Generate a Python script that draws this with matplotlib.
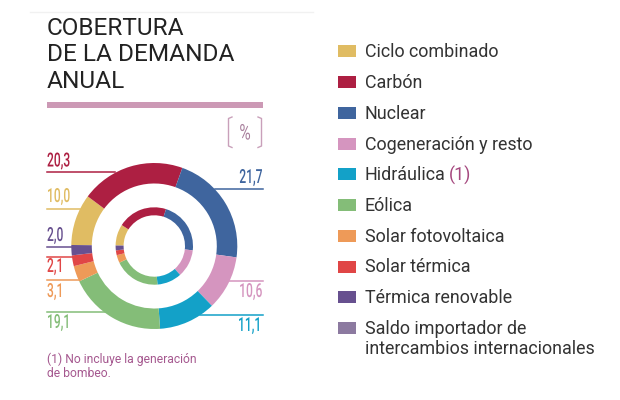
import matplotlib
matplotlib.use('Agg')
import matplotlib.pyplot as plt
from matplotlib.patches import Rectangle
from matplotlib.patheffects import AbstractPathEffect
from matplotlib.transforms import Affine2D

# DATA

categories = ['Ciclo combinado', 'Carbón', 'Nuclear', 'Cogeneración y resto', 'Hidráulica',
              'Eólica', 'Solar fotovoltaica', 'Solar térmica', 'Térmica renovable',
              'Saldo importador de\nintercambios internacionales']
colors = ['#E0BC63', '#AD1F42', '#3F659E', '#D595BF', '#13A1C8',
          '#84BD78', '#EE9A58', '#E04646', '#67508F', '#8C7AA0']

outer = [10.0, 20.3, 21.7, 10.6, 11.1, 19.1, 3.1, 2.1, 2.0, 0.0]
inner = [8.9, 20.8, 21.9, 11.6, 10.3, 19.2, 3.3, 2.0, 2.0, 0.0]

labels_left = ['20,3', '10,0', '2,0', '2,1', '3,1', '19,1']
labels_right = ['21,7', '10,6', '11,1']

H = 400
FONT = 'Roboto'
TITLE_COL = '#222222'
TEXT_COL = '#333333'
NOTE_COL = '#A5588F'

# no condensed face installed, so squeeze the glyphs sideways when they are drawn
class Squeeze(AbstractPathEffect):
    def __init__(self, sx, anchor='left'):
        super().__init__()
        self.sx = sx
        self.anchor = anchor

    def draw_path(self, renderer, gc, tpath, affine, rgbFace=None):
        ext = tpath.get_extents()
        x0 = {'left': 0, 'right': ext.x1, 'center': (ext.x0 + ext.x1) / 2}[self.anchor]
        squeeze = Affine2D().translate(-x0, 0).scale(self.sx, 1).translate(x0, 0)
        renderer.draw_path(gc, tpath, squeeze + affine, rgbFace)

fig = plt.figure(figsize=(6.2, 4.0), dpi=100)
ax = fig.add_axes([0, 0, 1, 1])

def y(py):
    return H - py

# RINGS

cx, cy = 154.3, y(246)
ax.pie(outer, colors=colors, startangle=179.3, counterclock=False, center=(cx, cy),
       radius=83, wedgeprops={'width': 20.5, 'linewidth': 0}, frame=True)
ax.pie(inner, colors=colors, startangle=179.3, counterclock=False, center=(cx, cy),
       radius=38.7, wedgeprops={'width': 8, 'linewidth': 0}, frame=True)

ax.set_xlim(0, 620)
ax.set_ylim(0, H)
ax.set_aspect('auto')
ax.axis('off')

# TITLE

ax.plot([30, 313], [y(12), y(12)], color='#F1F1F1', lw=1)
for txt, py in zip(['COBERTURA', 'DE LA DEMANDA', 'ANUAL'], [28.5, 54.5, 81]):
    ax.text(47, y(py), txt, family=FONT, fontsize=17.6, color=TITLE_COL, va='center', ha='left')
ax.add_patch(Rectangle((47, y(107.5)), 216, 5.5, color='#CC99B5', lw=0))

# % BRACKET

ax.plot([232, 228.5, 228.5, 232], [y(117), y(118.5), y(146), y(147.5)], color='#C9A0BA', lw=1)
ax.plot([258, 261.5, 261.5, 258], [y(117), y(118.5), y(146), y(147.5)], color='#C9A0BA', lw=1)
ax.text(245, y(134), '%', family=FONT, fontsize=15.5, color='#A87F9C', ha='center', va='center',
        path_effects=[Squeeze(0.72, 'center')])

# VALUE LABELS WITH LEADERS

left_idx = [1, 0, 8, 7, 6, 5]
left_text_y = [161.5, 197, 236, 267, 292, 323]
left_line_y = [172, 208.7, 246.7, 256.7, 280, 312]
left_line_x = [115, 80, 72, 73, 80, 105]
for i, lab, ty, ly, lx in zip(left_idx, labels_left, left_text_y, left_line_y, left_line_x):
    ax.plot([47, lx], [y(ly), y(ly)], color=colors[i], lw=1.1, zorder=0)
    ax.text(47, y(ty), lab, family=FONT, fontsize=14, weight='medium', color=colors[i],
            ha='left', va='center', path_effects=[Squeeze(0.62, 'left')])

right_idx = [2, 3, 4]
right_text_y = [178, 292, 326]
right_line_y = [188.7, 280.7, 314.7]
right_line_x = [215, 228, 200]
for i, lab, ty, ly, lx in zip(right_idx, labels_right, right_text_y, right_line_y, right_line_x):
    ax.plot([lx, 263], [y(ly), y(ly)], color=colors[i], lw=1.1, zorder=0)
    ax.text(263, y(ty), lab, family=FONT, fontsize=14, weight='medium', color=colors[i],
            ha='right', va='center', path_effects=[Squeeze(0.62, 'right')])

# FOOTNOTE

ax.text(47, y(359), '(1) No incluye la generación', family=FONT, fontsize=8.7, color=NOTE_COL, va='center')
ax.text(47, y(373.5), 'de bombeo.', family=FONT, fontsize=8.7, color=NOTE_COL, va='center')

# LEGEND

rows = [51, 82, 113, 143.5, 174, 205, 236, 266.5, 297, 328]
for name, col, py in zip(categories, colors, rows):
    ax.add_patch(Rectangle((337.5, y(py + 6)), 18.5, 12, color=col, lw=0))
    lines = name.split('\n')
    for k, line in enumerate(lines):
        ax.text(365, y(py + 1 + k * 20), line, family=FONT, fontsize=12.9, color=TEXT_COL, va='center', ha='left')
ax.text(449, y(175), '(1)', family=FONT, fontsize=12.9, color='#A5487F', va='center', ha='left')

fig.savefig('out.png', dpi=100)
